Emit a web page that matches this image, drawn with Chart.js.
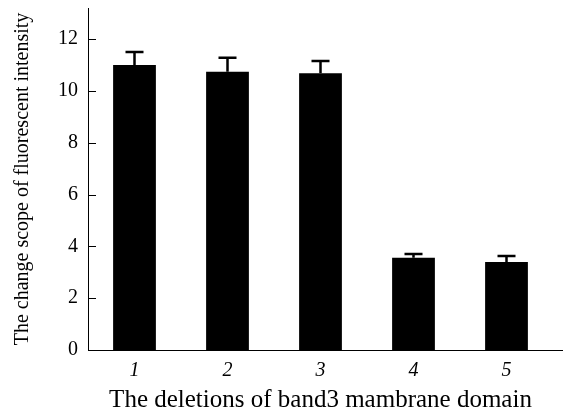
<!DOCTYPE html>
<html>
<head>
<meta charset="utf-8">
<script src="https://cdn.jsdelivr.net/npm/chart.js@4/dist/chart.umd.min.js"></script>
<style>
  html, body { margin: 0; padding: 0; background: #fff; }
  #wrap { width: 564px; height: 416px; }
</style>
</head>
<body>
<div id="wrap"><canvas id="barChart"></canvas></div>
<script>
const categories = ['1', '2', '3', '4', '5'];
const means = [11.0, 10.74, 10.68, 3.56, 3.4];
const errors = [0.5, 0.54, 0.47, 0.15, 0.23];
const yTicks = [0, 2, 4, 6, 8, 10, 12];

const serif = '"Liberation Serif", "DejaVu Serif", serif';

// inward y ticks, extended x axis line, one-sided error bars
const extras = {
    id: 'extras',
    afterDatasetsDraw(chart) {
        const c = chart.ctx;
        const x = chart.scales.x;
        const y = chart.scales.y;
        const area = chart.chartArea;
        c.save();
        c.strokeStyle = '#000';

        c.lineWidth = 1;
        yTicks.forEach(v => {
            const py = Math.round(y.getPixelForValue(v)) + 0.5;
            c.beginPath();
            c.moveTo(area.left, py);
            c.lineTo(area.left + 8, py);
            c.stroke();
        });

        c.beginPath();
        c.moveTo(area.left, Math.round(area.bottom) + 0.5);
        c.lineTo(chart.width - 1, Math.round(area.bottom) + 0.5);
        c.stroke();

        c.lineWidth = 2.5;
        means.forEach((m, i) => {
            const px = x.getPixelForValue(i);
            const top = y.getPixelForValue(m + errors[i]);
            const base = y.getPixelForValue(m);
            c.beginPath();
            c.moveTo(px, base);
            c.lineTo(px, top);
            c.moveTo(px - 9, top);
            c.lineTo(px + 9, top);
            c.stroke();
        });
        c.restore();
    }
};

new Chart(document.getElementById('barChart'), {
    type: 'bar',
    data: {
        labels: categories,
        datasets: [{
            data: means,
            backgroundColor: '#000',
            borderWidth: 0,
            barPercentage: 0.46,
            categoryPercentage: 1
        }]
    },
    options: {
        responsive: true,
        maintainAspectRatio: false,
        animation: false,
        layout: { padding: { top: 8, right: 11, left: 0, bottom: 0 } },
        plugins: {
            legend: { display: false },
            tooltip: { enabled: false }
        },
        scales: {
            x: {
                grid: { display: false, drawTicks: false },
                border: { display: false },
                ticks: {
                    color: '#000',
                    padding: 9,
                    font: { family: serif, size: 20, style: 'italic' }
                },
                title: {
                    display: true,
                    text: 'The deletions of band3 mambrane domain',
                    color: '#000',
                    padding: { top: 0, bottom: 1 },
                    font: { family: serif, size: 25 }
                },
                afterFit(s) {
                    s.height = 66;
                    s.paddingLeft = 0;
                    s.paddingRight = 0;
                }
            },
            y: {
                min: 0,
                max: 13.2,
                grid: { display: false, drawTicks: false },
                border: { display: true, color: '#000', width: 1 },
                afterBuildTicks(s) {
                    s.ticks = yTicks.map(v => ({ value: v }));
                },
                ticks: {
                    color: '#000',
                    padding: 10,
                    font: { family: serif, size: 20 }
                },
                title: {
                    display: true,
                    text: 'The change scope of fluorescent intensity',
                    color: '#000',
                    padding: { top: 11, bottom: 0 },
                    font: { family: serif, size: 20 }
                },
                afterFit(s) {
                    s.width = 88;
                    s.paddingTop = 0;
                    s.paddingBottom = 0;
                }
            }
        }
    },
    plugins: [extras]
});
</script>
</body>
</html>
